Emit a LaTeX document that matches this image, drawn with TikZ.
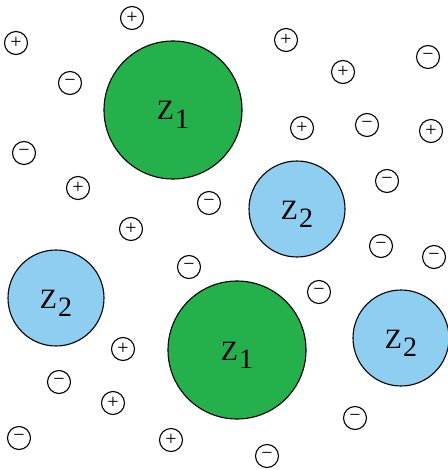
\documentclass[tikz,border=0pt]{standalone}
\usepackage{fontspec}
\setmainfont{Liberation Serif}
\definecolor{zgreen}{RGB}{36,177,76}
\definecolor{zblue}{RGB}{142,206,240}
\begin{document}
\begin{tikzpicture}[x=1pt,y=-1pt,
  ion/.style={draw=black,line width=1.1pt,circle,minimum size=23pt,inner sep=0pt,font=\fontsize{20}{20}\selectfont},
  bigone/.style={draw=black,line width=1.1pt,circle,fill=zgreen,minimum size=138pt,inner sep=0pt},
  bigtwo/.style={draw=black,line width=1.1pt,circle,fill=zblue,minimum size=96pt,inner sep=0pt},
  zlab/.style={anchor=base,inner sep=0pt,font=\fontsize{28}{30}\selectfont}]
\useasboundingbox (0,0) rectangle (447,470);
% large particles
\node[bigone] (g1) at (173,110) {};
\node[bigone] (g2) at (237,350) {};
\node[bigtwo] (b1) at (297,209) {};
\node[bigtwo] (b2) at (56,298) {};
\node[bigtwo] (b3) at (401,338) {};
\node[zlab] (lg1) at (173,120) {Z\kern1pt\raisebox{-8.5pt}{1}};
\node[zlab] (lg2) at (237,360) {Z\kern1pt\raisebox{-8.5pt}{1}};
\node[zlab] (lb1) at (297,219) {Z\kern1pt\raisebox{-8.5pt}{2}};
\node[zlab] (lb2) at (56,308) {Z\kern1pt\raisebox{-8.5pt}{2}};
\node[zlab] (lb3) at (401,348) {Z\kern1pt\raisebox{-8.5pt}{2}};
% positive ions
\node[ion] (p1) at (132,18) {+};
\node[ion] (p2) at (16,43) {+};
\node[ion] (p3) at (78,188) {+};
\node[ion] (p4) at (131,229) {+};
\node[ion] (p5) at (286,40) {+};
\node[ion] (p6) at (343,72) {+};
\node[ion] (p7) at (302,128) {+};
\node[ion] (p8) at (431,131) {+};
\node[ion] (p9) at (123,349) {+};
\node[ion] (p10) at (113,403) {+};
\node[ion] (p11) at (171,440) {+};
% negative ions
\node[ion] (m1) at (70,83) {−};
\node[ion] (m2) at (24,153) {−};
\node[ion] (m3) at (209,203) {−};
\node[ion] (m4) at (428,57) {−};
\node[ion] (m5) at (367,125) {−};
\node[ion] (m6) at (387,181) {−};
\node[ion] (m7) at (189,267) {−};
\node[ion] (m8) at (59,382) {−};
\node[ion] (m9) at (19,438) {−};
\node[ion] (m10) at (381,246) {−};
\node[ion] (m11) at (434,257) {−};
\node[ion] (m12) at (319,292) {−};
\node[ion] (m13) at (355,418) {−};
\node[ion] (m14) at (267,456) {−};
\end{tikzpicture}
\end{document}
